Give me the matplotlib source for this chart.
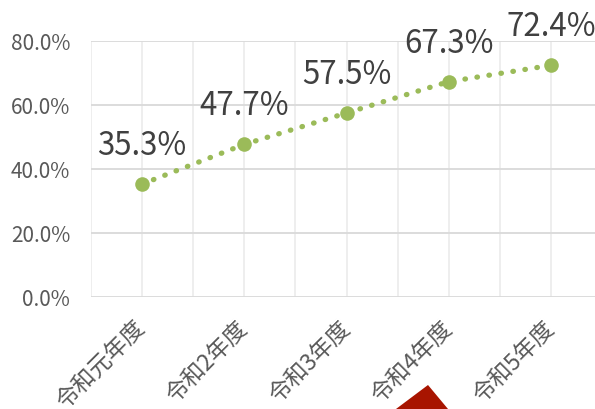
import matplotlib.pyplot as plt
from matplotlib.patches import Polygon
from matplotlib.ticker import MultipleLocator

plt.rcParams['font.family'] = ['Noto Sans CJK JP', 'DejaVu Sans']

years = ["令和元年度", "令和2年度", "令和3年度", "令和4年度", "令和5年度"]
rates = [35.3, 47.7, 57.5, 67.3, 72.4]
yticks = [0, 20, 40, 60, 80]

green = "#9BBB59"
grey = "#595959"

fig = plt.figure(figsize=(5.95, 4.10), dpi=100)
ax = fig.add_axes([91 / 595, 1 - 298 / 410, 511 / 595, 256 / 410])

x = list(range(len(years)))
ax.plot(x, rates, linestyle=(0, (0.1, 2.2)), dash_capstyle='round',
        linewidth=3.8, color=green, marker='o', markersize=10.5,
        markeredgewidth=0, zorder=3, clip_on=False)

for xi, v in zip(x, rates):
    ax.annotate(f"{v:.1f}%", (xi, v), xytext=(0, 28), textcoords='offset points',
                ha='center', va='center', fontsize=22.5, color="#404040",
                annotation_clip=False)

ax.set_xlim(-0.5, 4.5)
ax.set_ylim(0, 80)
ax.set_yticks(yticks)
ax.set_yticklabels([f"{t:.1f}%" for t in yticks])
ax.set_xticks(x)
ax.set_xticklabels(years, rotation=45, ha='right', va='center', rotation_mode='anchor')
ax.xaxis.set_minor_locator(MultipleLocator(0.5))

ax.tick_params(axis='y', length=0, pad=15, labelsize=15, labelcolor=grey)
ax.tick_params(axis='x', which='both', length=0, pad=19.5, labelsize=16.5, labelcolor=grey)

ax.grid(axis='y', color="#D9D9D9", linewidth=1.3)
ax.grid(axis='x', which='both', color="#EDEDED", linewidth=1.3)
ax.set_axisbelow(True)
for s in ax.spines.values():
    s.set_visible(False)

# red shape clipped at bottom edge
fig.patches.append(Polygon([(396 / 595, 0), (428 / 595, 1 - 386 / 410), (448 / 595, 0)],
                           closed=True, transform=fig.transFigure,
                           facecolor="#A81400", edgecolor='none'))

fig.savefig("out.png", dpi=100)
